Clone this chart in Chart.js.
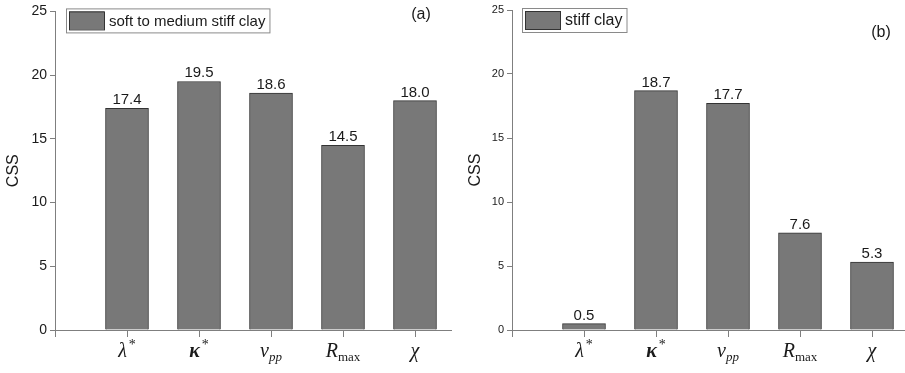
<!DOCTYPE html>
<html>
<head>
<meta charset="utf-8">
<script src="https://cdn.jsdelivr.net/npm/chart.js@4.4.1/dist/chart.umd.min.js"></script>
<style>
  html, body { margin: 0; padding: 0; background: #fff; overflow: hidden; width: 905px; height: 373px; }
  .panel { position: absolute; top: 0; height: 373px; }
</style>
</head>
<body>
<div class="panel" style="left:0;width:452px"><canvas id="chartA" width="452" height="373"></canvas></div>
<div class="panel" style="left:452px;width:460px"><canvas id="chartB" width="460" height="373"></canvas></div>
<script>
// parameters on the x axis (symbol + superscript + subscript)
const paramSymbols = ['λ', 'κ', 'ν', 'R', 'χ'];
const paramSup = ['*', '*', '', '', ''];
const paramSub = ['', '', 'pp', 'max', ''];

// CSS values
const softClayCSS = [17.4, 19.5, 18.6, 14.5, 18.0];
const stiffClayCSS = [0.5, 18.7, 17.7, 7.6, 5.3];

const cssTicks = [0, 5, 10, 15, 20, 25];

const SANS = '"Liberation Sans", Arial, sans-serif';
const SERIF = '"Liberation Serif", "Times New Roman", serif';
const barFill = '#787878';
const barEdge = '#333333';
const axisGray = '#7f7f7f';

// value labels, legend, panel letter and the math tick labels
const drawExtras = {
  id: 'drawExtras',
  afterDatasetsDraw(chart, args, o) {
    const ctx = chart.ctx;
    const ca = chart.chartArea;
    const xs = chart.scales.x;
    const ds = chart.data.datasets[0];
    const meta = chart.getDatasetMeta(0);
    ctx.save();

    // numbers on top of bars
    ctx.fillStyle = '#1a1a1a';
    ctx.font = o.valueFont + 'px ' + SANS;
    ctx.textAlign = 'center';
    ctx.textBaseline = 'alphabetic';
    meta.data.forEach((bar, i) => {
      ctx.fillText(ds.data[i].y.toFixed(1), bar.x, bar.y - 4);
    });

    // x tick labels with sub/superscripts
    ctx.textAlign = 'left';
    const mainFont = i => (i === 1 ? 'italic bold ' : 'italic ') + '20px ' + SERIF;
    const supFont = '14px ' + SERIF;
    const subFont = i => (paramSub[i] === 'pp' ? 'italic ' : '') + '13px ' + SERIF;
    paramSymbols.forEach((sym, i) => {
      const cx = xs.getPixelForValue(i + 1);
      ctx.font = mainFont(i);
      const wMain = ctx.measureText(sym).width;
      let wSup = 0, wSub = 0;
      if (paramSup[i]) { ctx.font = supFont; wSup = ctx.measureText(paramSup[i]).width + 2; }
      if (paramSub[i]) { ctx.font = subFont(i); wSub = ctx.measureText(paramSub[i]).width; }
      const x0 = cx - (wMain + Math.max(wSup, wSub)) / 2;
      const base = ca.bottom + 27;
      ctx.font = mainFont(i);
      ctx.fillText(sym, x0, base);
      if (paramSup[i]) { ctx.font = supFont; ctx.fillText(paramSup[i], x0 + wMain + 2, base - 8); }
      if (paramSub[i]) { ctx.font = subFont(i); ctx.fillText(paramSub[i], x0 + wMain, base + 4); }
    });

    // legend box
    ctx.font = o.legendFont + 'px ' + SANS;
    const tw = ctx.measureText(ds.label).width;
    const bx = ca.left + o.legendDx, by = ca.top + o.legendDy;
    const bw = 43 + tw + 4, bh = 24;
    ctx.fillStyle = '#fff';
    ctx.fillRect(bx, by, bw, bh);
    ctx.strokeStyle = '#8a8a8a';
    ctx.lineWidth = 1;
    ctx.strokeRect(bx + 0.5, by + 0.5, bw, bh);
    ctx.fillStyle = barFill;
    ctx.fillRect(bx + 3, by + 3, 35, 18);
    ctx.strokeStyle = barEdge;
    ctx.strokeRect(bx + 3.5, by + 3.5, 35, 18);
    ctx.fillStyle = '#1a1a1a';
    ctx.textBaseline = 'middle';
    ctx.fillText(ds.label, bx + 43, by + bh / 2 + 1);

    // panel letter
    ctx.font = '16px ' + SANS;
    ctx.textAlign = 'center';
    ctx.fillText(o.panel, o.panelX, o.panelY);
    ctx.restore();
  }
};

function makeChart(id, label, values, opt) {
  return new Chart(document.getElementById(id), {
    type: 'bar',
    data: {
      datasets: [{
        label: label,
        data: values.map((v, i) => ({ x: i + 1, y: v })),
        backgroundColor: barFill,
        borderColor: barEdge,
        borderWidth: 1,
        barThickness: 43
      }]
    },
    options: {
      responsive: false,
      animation: false,
      layout: { padding: { top: 10, right: opt.padRight, bottom: 0, left: 0 } },
      plugins: {
        legend: { display: false },
        tooltip: { enabled: false },
        drawExtras: opt
      },
      scales: {
        x: {
          type: 'linear',
          min: 0, max: 5.5,
          offset: false,
          afterBuildTicks: s => { s.ticks = [0, 1, 2, 3, 4, 5].map(v => ({ value: v })); },
          afterFit: s => { s.height = 43; },
          ticks: { display: false },
          grid: { offset: false, drawOnChartArea: false, drawTicks: true, tickLength: 7, color: axisGray },
          border: { color: axisGray }
        },
        y: {
          min: 0, max: 25,
          afterBuildTicks: s => { s.ticks = cssTicks.map(v => ({ value: v })); },
          afterFit: s => { s.width = opt.yWidth; },
          ticks: { color: '#1a1a1a', font: { family: SANS, size: opt.tickFont }, padding: 3 },
          grid: { drawOnChartArea: false, drawTicks: true, tickLength: 5, color: axisGray },
          border: { color: axisGray },
          title: { display: true, text: 'CSS', color: '#1a1a1a', font: { family: SANS, size: 16 }, padding: { top: opt.titlePad, bottom: 0 } }
        }
      }
    },
    plugins: [drawExtras]
  });
}

makeChart('chartA', 'soft to medium stiff clay', softClayCSS, {
  yWidth: 55, padRight: 1, tickFont: 14, titlePad: 4, valueFont: 15, legendFont: 15,
  legendDx: 11, legendDy: -3, panel: '(a)', panelX: 421, panelY: 15
});
makeChart('chartB', 'stiff clay', stiffClayCSS, {
  yWidth: 60, padRight: 4, tickFont: 11, titlePad: 14, valueFont: 15, legendFont: 16,
  legendDx: 10, legendDy: -2, panel: '(b)', panelX: 429, panelY: 33
});
</script>
</body>
</html>
